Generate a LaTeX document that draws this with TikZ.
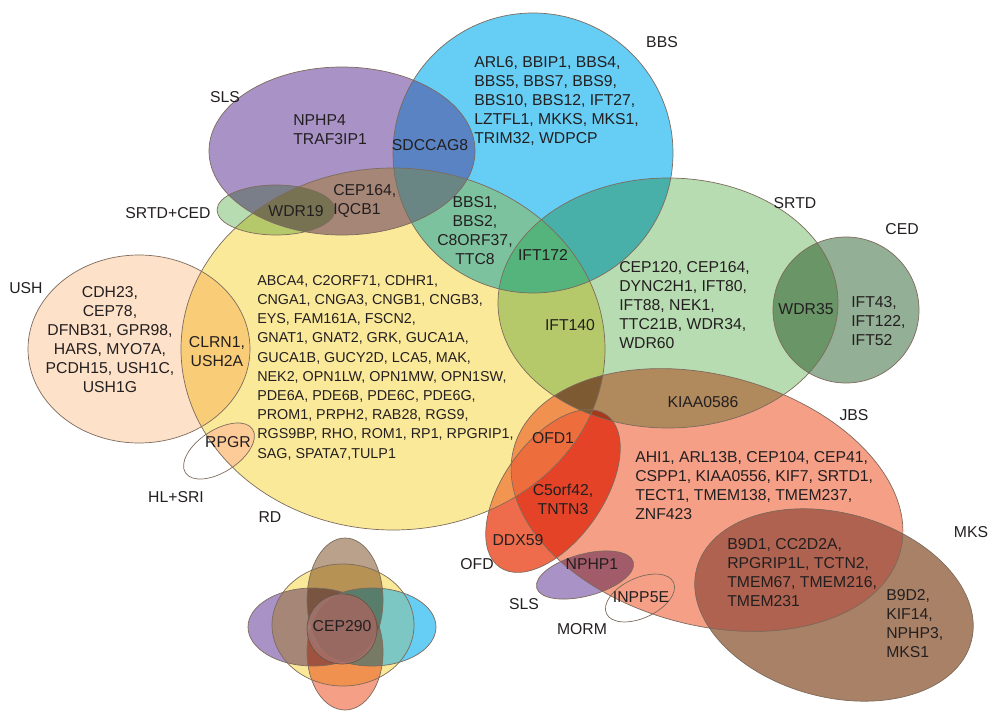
\documentclass[tikz,border=0pt]{standalone}
\usepackage{fontspec}
\setmainfont{Liberation Sans}

\definecolor{ink}{HTML}{231F20}
\definecolor{edge}{HTML}{7D6B5D}
\definecolor{bbsc}{HTML}{66CDF4}
\definecolor{slsc}{HTML}{A993C6}
\definecolor{rdc}{HTML}{FBE99A}
\definecolor{srtdc}{HTML}{B8DCB1}
\definecolor{cedc}{HTML}{93AF95}
\definecolor{ushc}{HTML}{FDE1C8}
\definecolor{jbsc}{HTML}{F59F86}
\definecolor{mksc}{HTML}{A88166}
\definecolor{ofdc}{HTML}{EE6C4C}
\definecolor{hlc}{HTML}{FCCB98}
\definecolor{ofdrdc}{HTML}{F29550}
\definecolor{ofdallc}{HTML}{EE6D3D}
\definecolor{kiac}{HTML}{7E5A33}
\definecolor{sbc}{HTML}{5A83C3}
\definecolor{sbrc}{HTML}{6A8684}
\definecolor{brc}{HTML}{7DC29E}
\definecolor{brtc}{HTML}{55B47B}
\definecolor{jmc}{HTML}{AE624F}
\definecolor{cepc}{HTML}{A9706A}
\definecolor{minibrc}{HTML}{B9A18C}
\definecolor{minibyc}{HTML}{7CC6C3}

% outlines of the sets, in pixel units
\newcommand\ushset{(139,349) ellipse [x radius=111, y radius=94]}
\newcommand\rdset{(393,349) ellipse [x radius=212, y radius=181]}
\newcommand\slsset{(342,151) ellipse [x radius=133, y radius=84]}
\newcommand\sxset{(276,210) ellipse [x radius=59, y radius=25]}
\newcommand\bbsset{(533,153) circle [radius=140]}
\newcommand\srtdset{(668,303) ellipse [x radius=170, y radius=125]}
\newcommand\cedset{(846,310) circle [radius=73]}
\newcommand\jbsset{[rotate around={-15:(707,500)}] (707,500) ellipse [x radius=200, y radius=125]}
\newcommand\mksset{[rotate around={-15:(834,605)}] (834,605) ellipse [x radius=142, y radius=92]}
\newcommand\ofdset{[rotate around={55:(553,491)}] (553,491) ellipse [x radius=93, y radius=50]}
\newcommand\slsbset{[rotate around={15:(585,575)}] (585,575) ellipse [x radius=50, y radius=21]}
\newcommand\mormset{[rotate around={25:(640,598)}] (640,598) ellipse [x radius=37, y radius=20]}
\newcommand\hlset{[rotate around={33:(219,451)}] (219,451) ellipse [x radius=40, y radius=21]}

\tikzset{
  venn/.style={fill=#1, blend mode=multiply},
  rim/.style={draw=edge, line width=0.5pt},
  disease/.style={font=\fontsize{11.2}{13.5}\selectfont, text=ink, inner sep=0pt},
  genes/.style={disease, align=left, anchor=north west},
  cgenes/.style={disease, align=center, anchor=north},
}

\begin{document}
\begin{tikzpicture}[x=0.025cm, y=-0.025cm]
  \useasboundingbox (0,0) rectangle (989,711);

  % sets
  \fill[venn=ushc] \ushset;
  \fill[venn=rdc] \rdset;
  \fill[venn=slsc] \slsset;
  \fill[venn=srtdc] \sxset;
  \fill[venn=bbsc] \bbsset;
  \fill[venn=srtdc] \srtdset;
  \fill[venn=cedc] \cedset;
  \fill[venn=jbsc] \jbsset;
  \fill[venn=mksc] \mksset;
  \fill[venn=ofdc] \ofdset;
  \fill[venn=slsc] \slsbset;

  % overlaps that do not mix like the rest
  \begin{scope}
    \clip \bbsset;
    \clip \rdset;
    \fill[brc] (380,150) rectangle (620,300);
    \clip \srtdset;
    \fill[brtc] (380,150) rectangle (620,300);
  \end{scope}
  \begin{scope}
    \clip \slsset;
    \clip \bbsset;
    \fill[sbc] (380,60) rectangle (480,240);
    \clip \rdset;
    \fill[sbrc] (380,60) rectangle (480,240);
  \end{scope}
  \begin{scope}
    \clip \jbsset;
    \clip \mksset;
    \fill[jmc] (680,490) rectangle (920,660);
  \end{scope}
  \begin{scope}
    \clip \ofdset;
    \clip \rdset;
    \fill[ofdrdc] (450,350) rectangle (650,600);
    \clip \jbsset;
    \fill[ofdallc] (450,350) rectangle (650,600);
  \end{scope}
  \begin{scope}
    \clip \srtdset;
    \clip \rdset;
    \clip \jbsset;
    \fill[kiac] (500,300) rectangle (700,480);
  \end{scope}
  \begin{scope}
    \clip \rdset;
    \fill[hlc] \hlset;
  \end{scope}

  % outlines
  \draw[rim] \ushset;
  \draw[rim] \rdset;
  \draw[rim] \slsset;
  \draw[rim] \sxset;
  \draw[rim] \bbsset;
  \draw[rim] \srtdset;
  \draw[rim] \cedset;
  \draw[rim] \jbsset;
  \draw[rim] \mksset;
  \draw[rim] \ofdset;
  \draw[rim] \slsbset;
  \draw[rim] \mormset;
  \draw[rim] \hlset;

  % small diagram for CEP290
  \fill[venn=slsc] (313,627) ellipse [x radius=65, y radius=39];
  \fill[venn=bbsc] (372,627) ellipse [x radius=64, y radius=39];
  \fill[venn=rdc] (343,625) ellipse [x radius=71, y radius=61];
  \begin{scope}
    \clip (372,627) ellipse [x radius=64, y radius=39];
    \fill[minibyc] (343,625) ellipse [x radius=71, y radius=61];
  \end{scope}
  \fill[venn=minibrc] (345,600) ellipse [x radius=38, y radius=62];
  \fill[venn=jbsc] (345,652) ellipse [x radius=38, y radius=58];
  \draw[rim] (313,627) ellipse [x radius=65, y radius=39];
  \draw[rim] (372,627) ellipse [x radius=64, y radius=39];
  \draw[rim] (343,625) ellipse [x radius=71, y radius=61];
  \draw[rim] (345,600) ellipse [x radius=38, y radius=62];
  \draw[rim] (345,652) ellipse [x radius=38, y radius=58];
  \fill[cepc, fill opacity=0.8] (342,629) circle [radius=35];
  \draw[rim, draw=edge!80!black] (342,629) circle [radius=35];

  % set names
  \node[disease] (bbsname) at (662,42) {BBS};
  \node[disease] (slsname) at (225,97) {SLS};
  \node[disease] (sxname) at (168,213) {SRTD+CED};
  \node[disease] (ushname) at (26,288) {USH};
  \node[disease] (hlname) at (176,497) {HL+SRI};
  \node[disease] (rdname) at (270,517) {RD};
  \node[disease] (srtdname) at (795,203) {SRTD};
  \node[disease] (cedname) at (902,229) {CED};
  \node[disease] (jbsname) at (854,415) {JBS};
  \node[disease] (mksname) at (971,532) {MKS};
  \node[disease] (ofdname) at (477,564) {OFD};
  \node[disease] (slsbname) at (524,604) {SLS};
  \node[disease] (mormname) at (582,629) {MORM};

  % genes
  \node[genes] (bbsonly) at (474,56) {ARL6, BBIP1, BBS4,\\BBS5, BBS7, BBS9,\\BBS10, BBS12, IFT27,\\LZTFL1, MKKS, MKS1,\\TRIM32, WDPCP};
  \node[genes] (slsonly) at (293,114) {NPHP4\\TRAF3IP1};
  \node[disease] (slsbbs) at (430,145) {SDCCAG8};
  \node[genes] (slsrd) at (333,184) {CEP164,\\IQCB1};
  \node[disease] (slssx) at (296,211) {WDR19};
  \node[cgenes] (bbsrd) at (475,196) {BBS1,\\BBS2,\\C8ORF37,\\TTC8};
  \node[disease] (bbsrdsrtd) at (543,255) {IFT172};
  \node[disease] (rdsrtd) at (570,325) {IFT140};
  \node[genes] (srtdonly) at (619,261) {CEP120, CEP164,\\DYNC2H1, IFT80,\\IFT88, NEK1,\\TTC21B, WDR34,\\WDR60};
  \node[disease] (srtdced) at (806,309) {WDR35};
  \node[genes] (cedonly) at (851,296) {IFT43,\\IFT122,\\IFT52};
  \node[cgenes] (ushonly) at (110,286) {CDH23,\\CEP78,\\DFNB31, GPR98,\\HARS, MYO7A,\\PCDH15, USH1C,\\USH1G};
  \node[cgenes] (ushrd) at (217,336) {CLRN1,\\USH2A};
  \node[disease] (hlrd) at (228,442) {RPGR};
  \node[genes, font=\fontsize{10.2}{13.65}\selectfont] (rdonly) at (257,275) {ABCA4, C2ORF71, CDHR1,\\CNGA1, CNGA3, CNGB1, CNGB3,\\EYS, FAM161A, FSCN2,\\GNAT1, GNAT2, GRK, GUCA1A,\\GUCA1B, GUCY2D, LCA5, MAK,\\NEK2, OPN1LW, OPN1MW, OPN1SW,\\PDE6A, PDE6B, PDE6C, PDE6G,\\PROM1, PRPH2, RAB28, RGS9,\\RGS9BP, RHO, ROM1, RP1, RPGRIP1,\\SAG, SPATA7,TULP1};
  \node[disease] (ofdrd) at (553,438) {OFD1};
  \node[cgenes] (ofdjbs) at (563,484) {C5orf42,\\TNTN3};
  \node[disease] (ofdonly) at (518,540) {DDX59};
  \node[disease] (slsjbs) at (592,564) {NPHP1};
  \node[disease] (mormjbs) at (641,597) {INPP5E};
  \node[disease] (srtdjbs) at (703,402) {KIAA0586};
  \node[genes] (jbsonly) at (635,451) {AHI1, ARL13B, CEP104, CEP41,\\CSPP1, KIAA0556, KIF7, SRTD1,\\TECT1, TMEM138, TMEM237,\\ZNF423};
  \node[genes] (jbsmks) at (727,538) {B9D1, CC2D2A,\\RPGRIP1L, TCTN2,\\TMEM67, TMEM216,\\TMEM231};
  \node[genes] (mksonly) at (886,589) {B9D2,\\KIF14,\\NPHP3,\\MKS1};
  \node[disease] (allsets) at (342,626) {CEP290};
\end{tikzpicture}
\end{document}
